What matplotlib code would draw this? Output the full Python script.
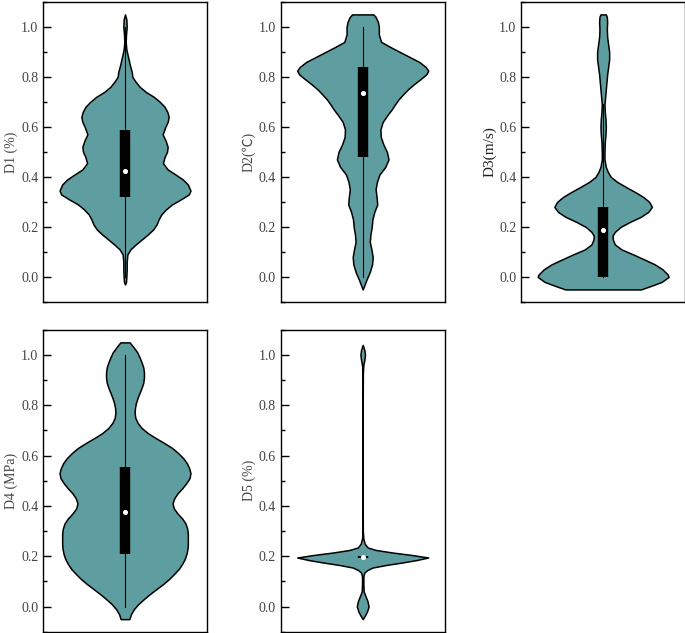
import numpy as np
import matplotlib.pyplot as plt
from matplotlib.ticker import MultipleLocator, FormatStrFormatter

plt.rcParams['font.family'] = ['Liberation Serif', 'Noto Sans CJK SC']

labels = ["D1 (%)", "D2(℃)", "D3(m/s)", "D4 (MPa)", "D5 (%)"]

# violin outlines: level -> relative half width
d1_y = [1.05, 1.03, 1.00, 0.97, 0.94, 0.91, 0.88, 0.85, 0.82, 0.80,
        0.78, 0.76, 0.74, 0.72, 0.70, 0.68, 0.66, 0.64, 0.62, 0.60,
        0.57, 0.545, 0.52, 0.50, 0.48, 0.455, 0.43, 0.41, 0.39, 0.37,
        0.345, 0.33, 0.31, 0.29, 0.27, 0.25, 0.23, 0.21, 0.19, 0.17,
        0.15, 0.13, 0.11, 0.09, 0.06, 0.03, 0.00, -0.02, -0.03]
d1_w = [0, 4, 5, 3, 2, 4, 9, 14, 20, 22,
        32, 44, 62, 86, 104, 118, 126, 130, 127, 120,
        112, 121, 127, 125, 118, 113, 127, 150, 172, 187,
        195, 190, 166, 140, 122, 108, 100, 94, 84, 68,
        50, 32, 16, 7, 5, 5, 4, 3, 0]

d2_y = [1.05, 1.04, 1.02, 1.00, 0.97, 0.94, 0.92, 0.90, 0.88, 0.86,
        0.84, 0.825, 0.81, 0.79, 0.77, 0.75, 0.73, 0.71, 0.69, 0.67,
        0.65, 0.62, 0.59, 0.56, 0.53, 0.50, 0.47, 0.44, 0.41, 0.38,
        0.35, 0.32, 0.29, 0.26, 0.23, 0.20, 0.17, 0.14, 0.11, 0.08,
        0.05, 0.02, -0.01, -0.03, -0.05]
d2_w = [33, 40, 47, 50, 50, 57, 85, 115, 145, 175,
        195, 203, 197, 178, 158, 140, 125, 111, 100, 90,
        78, 62, 55, 56, 64, 75, 80, 70, 52, 44,
        40, 43, 45, 36, 30, 28, 24, 22, 27, 31,
        29, 22, 12, 6, 0]

d3_y = [1.05, 1.04, 1.02, 0.99, 0.96, 0.93, 0.90, 0.87, 0.84, 0.81,
        0.78, 0.75, 0.72, 0.69, 0.66, 0.63, 0.60, 0.57, 0.54, 0.50,
        0.47, 0.44, 0.42, 0.40, 0.38, 0.36, 0.34, 0.32, 0.30, 0.28,
        0.26, 0.24, 0.22, 0.20, 0.18, 0.165, 0.15, 0.13, 0.11, 0.09,
        0.07, 0.05, 0.03, 0.01, 0.00, -0.02, -0.035, -0.05]
d3_w = [8, 11, 12, 11, 12, 15, 18, 18, 15, 12,
        10, 8, 6, 4, 5, 7, 8, 7, 5, 4,
        4, 8, 14, 23, 42, 68, 95, 120, 138, 146,
        135, 112, 80, 52, 35, 28, 29, 35, 55, 90,
        123, 155, 178, 193, 196, 175, 145, 113]

d4_y = [1.05, 1.03, 1.01, 0.99, 0.97, 0.95, 0.93, 0.91, 0.89, 0.87,
        0.85, 0.83, 0.81, 0.79, 0.77, 0.75, 0.73, 0.71, 0.69, 0.67,
        0.65, 0.63, 0.61, 0.59, 0.57, 0.55, 0.53, 0.51, 0.49, 0.47,
        0.45, 0.43, 0.41, 0.39, 0.37, 0.35, 0.33, 0.31, 0.29, 0.27,
        0.25, 0.23, 0.21, 0.19, 0.17, 0.15, 0.13, 0.11, 0.09, 0.07,
        0.05, 0.03, 0.01, -0.01, -0.03, -0.05]
d4_w = [14, 26, 37, 44, 50, 55, 57, 57, 55, 50,
        44, 38, 33, 30, 29, 31, 38, 50, 68, 92,
        118, 142, 160, 175, 186, 193, 197, 194, 184, 172,
        158, 148, 143, 147, 158, 172, 182, 187, 189, 189,
        189, 188, 185, 180, 172, 162, 148, 133, 115, 95,
        75, 57, 40, 27, 18, 13]

d5_y = [1.04, 1.02, 1.00, 0.98, 0.96, 0.93, 0.80, 0.60, 0.40, 0.30,
        0.27, 0.25, 0.235, 0.225, 0.215, 0.205, 0.195, 0.185, 0.175, 0.165,
        0.155, 0.145, 0.135, 0.12, 0.09, 0.06, 0.04, 0.02, 0.00, -0.02,
        -0.035, -0.05]
d5_w = [0, 5, 7, 5, 2, 0.5, 0, 0, 0, 0.3,
        2, 6, 15, 40, 90, 150, 200, 165, 120, 70,
        30, 14, 5, 2, 2, 3, 9, 15, 18, 13,
        7, 0]

levels = [d1_y, d2_y, d3_y, d4_y, d5_y]
widths = [d1_w, d2_w, d3_w, d4_w, d5_w]

# inner box: quartiles, median, whisker ends
q1 = [0.320, 0.479, 0.000, 0.209, 0.193]
med = [0.425, 0.737, 0.187, 0.375, 0.197]
q3 = [0.588, 0.841, 0.281, 0.554, 0.200]
wlo = [0.00, 0.00, 0.00, 0.00, 0.190]
whi = [1.00, 1.00, 0.69, 1.00, 0.205]

fig = plt.figure(figsize=(6.85, 6.33), dpi=100)
rects = [[0.063, 0.523, 0.239, 0.474],
         [0.410, 0.523, 0.239, 0.474],
         [0.761, 0.523, 0.239, 0.474],
         [0.063, 0.002, 0.239, 0.477],
         [0.410, 0.002, 0.239, 0.477]]

for i in range(5):
    ax = fig.add_axes(rects[i])
    stats = [{'coords': np.array(levels[i]), 'vals': np.array(widths[i], float),
              'mean': med[i], 'median': med[i], 'min': wlo[i], 'max': whi[i]}]
    parts = ax.violin(stats, positions=[0], widths=0.8, showextrema=False)
    for b in parts['bodies']:
        b.set_facecolor('#5f9ea0')
        b.set_edgecolor('black')
        b.set_linewidth(1.1)
        b.set_alpha(1)
    ax.plot([0, 0], [wlo[i], whi[i]], color='black', lw=0.8)
    ax.plot([0, 0], [q1[i], q3[i]], color='black', lw=7.5, solid_capstyle='butt')
    ax.scatter([0], [med[i]], s=7, color='white', zorder=3)

    ax.set_xlim(-0.5, 0.5)
    ax.set_ylim(-0.1, 1.1)
    ax.set_xticks([])
    ax.yaxis.set_major_locator(MultipleLocator(0.2))
    ax.yaxis.set_minor_locator(MultipleLocator(0.1))
    ax.yaxis.set_major_formatter(FormatStrFormatter('%.1f'))
    ax.tick_params(axis='y', which='major', direction='in', length=6, width=1,
                   labelsize=10, labelcolor='#444444')
    ax.tick_params(axis='y', which='minor', direction='in', length=3, width=1)
    for s in ax.spines.values():
        s.set_linewidth(1.0)
    if i == 2:
        ax.set_ylabel(labels[i], fontsize=11, color='#222222', labelpad=2)
    else:
        ax.set_ylabel(labels[i], fontsize=10, color='#444444', labelpad=2)

fig.savefig('out.png', dpi=100)
